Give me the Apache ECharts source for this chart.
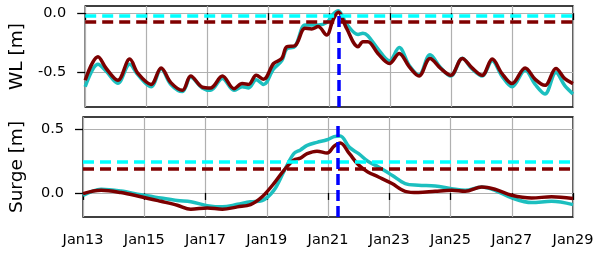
<!DOCTYPE html>
<html>
<head>
<meta charset="utf-8">
<script src="https://cdn.jsdelivr.net/npm/echarts@6/dist/echarts.min.js"></script>
<style>
html, body { margin: 0; padding: 0; background: #fff; }
#main { width: 600px; height: 257px; }
</style>
</head>
<body>
<div id="main"></div>
<script>
// days since Jan13 00:00
var xTicks = [0, 2, 4, 6, 8, 10, 12, 14, 16];
var firstDay = 13;

// water level panel
var wlDays  = [0, 0.42, 0.69, 1.07, 1.46, 1.73, 2.16, 2.49, 2.81, 3.19, 3.46, 3.84, 4.11, 4.5, 4.88, 5.15, 5.36, 5.61, 5.85, 6.18, 6.45, 6.61, 6.88, 7.21, 7.43, 7.64, 7.92, 8.13, 8.3, 8.57, 8.95, 9.11, 9.27, 9.6, 9.98, 10.3, 10.63, 10.95, 11.31, 11.66, 11.99, 12.37, 12.69, 13.02, 13.35, 13.67, 14.0, 14.43, 14.76, 15.08, 15.44, 15.73, 16.0];
var wlRed   = [-0.565, -0.367, -0.466, -0.565, -0.387, -0.508, -0.60, -0.461, -0.585, -0.65, -0.529, -0.622, -0.63, -0.53, -0.636, -0.593, -0.60, -0.523, -0.557, -0.424, -0.381, -0.283, -0.274, -0.127, -0.133, -0.113, -0.184, -0.057, 0.008, -0.127, -0.283, -0.24, -0.24, -0.339, -0.424, -0.339, -0.452, -0.529, -0.381, -0.466, -0.523, -0.381, -0.461, -0.523, -0.387, -0.508, -0.593, -0.461, -0.557, -0.608, -0.466, -0.551, -0.593];
var wlTeal  = [-0.62, -0.43, -0.49, -0.59, -0.43, -0.52, -0.62, -0.47, -0.60, -0.66, -0.54, -0.63, -0.65, -0.55, -0.65, -0.62, -0.63, -0.56, -0.60, -0.47, -0.40, -0.30, -0.28, -0.10, -0.10, -0.10, -0.08, -0.01, 0.02, -0.09, -0.18, -0.17, -0.19, -0.30, -0.40, -0.29, -0.44, -0.52, -0.35, -0.46, -0.53, -0.38, -0.47, -0.53, -0.40, -0.53, -0.62, -0.48, -0.60, -0.68, -0.50, -0.61, -0.68];
var wlTicks = [-0.5, 0.0];
var wlRefTeal = -0.02, wlRefRed = -0.07;

// surge panel
var sgDays  = [0, 0.59, 1.24, 1.89, 2.54, 3.08, 3.52, 4.06, 4.55, 5.04, 5.47, 5.85, 6.23, 6.56, 6.88, 7.1, 7.32, 7.64, 7.97, 8.2, 8.4, 8.7, 9.0, 9.3, 9.65, 10.09, 10.52, 10.95, 11.5, 12.04, 12.48, 13.02, 13.45, 14.0, 14.65, 15.3, 16.0];
var sgRed   = [-0.005, 0.021, 0.003, -0.03, -0.066, -0.097, -0.129, -0.118, -0.129, -0.11, -0.092, -0.03, 0.074, 0.179, 0.26, 0.275, 0.31, 0.33, 0.315, 0.37, 0.395, 0.31, 0.22, 0.166, 0.126, 0.074, 0.013, 0.003, 0.013, 0.021, 0.013, 0.047, 0.029, -0.018, -0.039, -0.031, -0.044];
var sgTeal  = [-0.02, 0.03, 0.015, -0.015, -0.04, -0.06, -0.07, -0.10, -0.11, -0.09, -0.07, -0.06, 0.02, 0.17, 0.31, 0.34, 0.376, 0.40, 0.42, 0.445, 0.45, 0.36, 0.31, 0.25, 0.205, 0.14, 0.074, 0.061, 0.055, 0.034, 0.021, 0.047, 0.021, -0.039, -0.076, -0.066, -0.092];
var sgTicks = [0.0, 0.5];
var sgRefTeal = 0.253, sgRefRed = 0.187;

var peakDay = 8.33;

function pairs(xs, ys) {
  return xs.map(function (x, i) { return [x, ys[i]]; });
}

var font = 'DejaVu Sans';
var gridColor = '#b0b0b0';
var tealLine = '#1cbfbf', redLine = '#7b0000';

function xAxisFor(idx, labels) {
  return {
    type: 'value', gridIndex: idx, min: 0, max: 16, interval: 2,
    axisLine: { show: false },
    axisTick: { show: true, inside: false, length: 7, lineStyle: { color: '#000', width: 1.3 } },
    axisLabel: {
      show: labels, color: '#000', fontFamily: font, fontSize: 14.5, margin: 16,
      formatter: function (v) { return 'Jan' + (firstDay + v); }
    },
    splitLine: { show: true, lineStyle: { color: gridColor, width: 1.2 } }
  };
}

function yAxisFor(idx, name, min, max, ticks) {
  return {
    type: 'value', gridIndex: idx, min: min, max: max,
    name: name, nameLocation: 'middle', nameGap: 56, nameRotate: 90,
    nameTextStyle: { color: '#000', fontFamily: font, fontSize: 18.5 },
    axisLine: { show: false },
    axisTick: { show: true, inside: false, length: 8, customValues: ticks, lineStyle: { color: '#000', width: 1.3 } },
    axisLabel: {
      color: '#000', fontFamily: font, fontSize: 14.5, margin: 19, customValues: ticks,
      formatter: function (v) { return v.toFixed(1); }
    },
    splitLine: { show: true, lineStyle: { color: gridColor, width: 1.2 } }
  };
}

function curve(idx, data, color) {
  return {
    type: 'line', xAxisIndex: idx, yAxisIndex: idx, data: data,
    showSymbol: false, smooth: 0.35, z: 3,
    lineStyle: { color: color, width: 3.5 }
  };
}

function refs(idx, tealVal, redVal, ymin, ytop) {
  return {
    type: 'line', xAxisIndex: idx, yAxisIndex: idx, data: [], z: 5,
    markLine: {
      silent: true, symbol: 'none', animation: false,
      label: { show: false },
      data: [
        { yAxis: tealVal, lineStyle: { color: '#00ffff', width: 3.5, type: [11, 6] } },
        { yAxis: redVal, lineStyle: { color: '#800000', width: 3.5, type: [11, 6] } },
        [
          { coord: [peakDay, ymin], lineStyle: { color: '#0000ff', width: 3.5, type: [11, 5] } },
          { coord: [peakDay, ytop] }
        ]
      ]
    }
  };
}

var myChart = echarts.init(document.getElementById('main'));

var option = {
  animation: false,
  backgroundColor: '#fff',
  grid: [
    { left: 82, top: 6, width: 491, height: 101, show: true, borderColor: '#000', borderWidth: 1.3, backgroundColor: 'transparent' },
    { left: 82, top: 117, width: 491, height: 100, show: true, borderColor: '#000', borderWidth: 1.3, backgroundColor: 'transparent' }
  ],
  xAxis: [xAxisFor(0, false), xAxisFor(1, true)],
  yAxis: [
    yAxisFor(0, 'WL [m]', -0.79, 0.06, wlTicks),
    yAxisFor(1, 'Surge [m]', -0.19, 0.6, sgTicks)
  ],
  series: [
    curve(0, pairs(wlDays, wlTeal), tealLine),
    curve(0, pairs(wlDays, wlRed), redLine),
    refs(0, wlRefTeal, wlRefRed, -0.79, 0.01),
    curve(1, pairs(sgDays, sgTeal), tealLine),
    curve(1, pairs(sgDays, sgRed), redLine),
    refs(1, sgRefTeal, sgRefRed, -0.19, 0.55)
  ]
};

myChart.setOption(option);
</script>
</body>
</html>
